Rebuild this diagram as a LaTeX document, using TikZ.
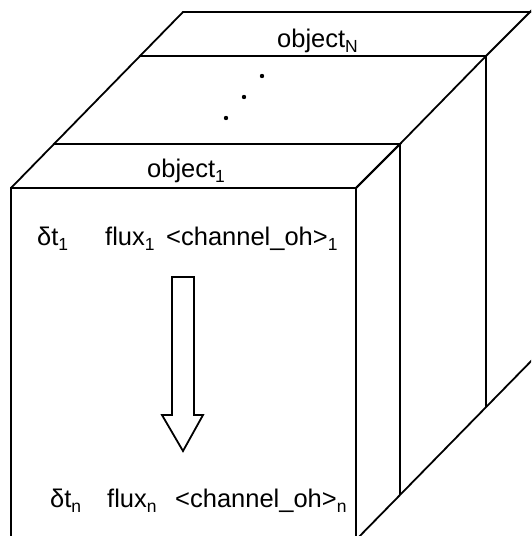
\documentclass[tikz,border=0pt]{standalone}
\usepackage{fontspec}
\setmainfont{Liberation Sans}
\newcommand\sbs[1]{\raisebox{-5pt}{\fontsize{17.5}{20}\selectfont #1}}
\begin{document}
\begin{tikzpicture}[x=1pt,y=-1pt,
  edge/.style={line width=1.8pt, line join=miter},
  lbl/.style={inner sep=0pt, anchor=base west, font=\fontsize{25.5}{30}\selectfont}]
\useasboundingbox (0,0) rectangle (531,536);
\clip (0,0) rectangle (531,536);
% front face
\draw[edge] (11,545) -- (11,188) -- (356,188) -- (356,545);
% top slab of object_1
\draw[edge] (11,188) -- (54,144) -- (400,144) -- (356,188);
% back slab edges
\draw[edge] (54,144) -- (140,56) -- (486,56);
\draw[edge] (140,56) -- (183,12) -- (540,12);
\draw[edge] (356,188) -- (400,144) -- (486,56) -- (540,2);
\draw[edge] (400,144) -- (400,495);
\draw[edge] (486,56) -- (486,407);
\draw[edge] (351,545) -- (540,352);
% dots
\fill (262,76) circle (2.2);
\fill (244,97) circle (2.2);
\fill (226,118) circle (2.2);
% block arrow
\draw[edge] (172,277) -- (194,277) -- (194,415) -- (203,415) -- (183,451) -- (162,415) -- (172,415) -- cycle;
% texts
\node[lbl] (objN) at (277,47) {object\sbs{N}};
\node[lbl] (obj1) at (147,177) {object\sbs{1}};
\node[lbl] (dt1) at (37,245) {δt\sbs{1}};
\node[lbl] (fl1) at (105,245) {flux\sbs{1}};
\node[lbl] (ch1) at (166,245) {<channel\_oh>\sbs{1}};
\node[lbl] (dtn) at (50,507) {δt\sbs{n}};
\node[lbl] (fln) at (107,507) {flux\sbs{n}};
\node[lbl] (chn) at (175,507) {<channel\_oh>\sbs{n}};
\end{tikzpicture}
\end{document}
